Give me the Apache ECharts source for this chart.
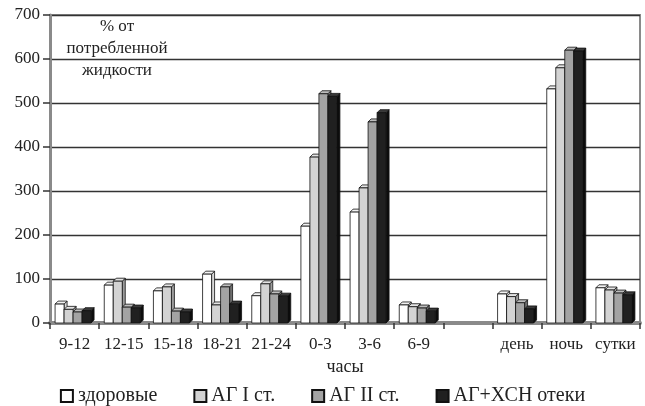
<!DOCTYPE html>
<html>
<head>
<meta charset="utf-8">
<script src="https://cdn.jsdelivr.net/npm/echarts@6/dist/echarts.min.js"></script>
<style>
  html, body { margin: 0; padding: 0; background: #fff; }
  #chart { width: 645px; height: 406px; }
</style>
</head>
<body>
<div id="chart"></div>
<script>
// Time intervals (hours), a blank spacer, then day / night / 24h totals
const categories = ['9-12', '12-15', '15-18', '18-21', '21-24', '0-3', '3-6', '6-9', '', 'день', 'ночь', 'сутки'];
const seriesNames = ['здоровые', 'АГ I ст.', 'АГ II ст.', 'АГ+ХСН отеки'];

// % of consumed fluid; null = no bar
const healthy   = [43, 86, 73, 111, 62, 220, 252, 41, null, 66, 532, 80];
const ag1       = [31, 95, 82, 41, 89, 377, 307, 37, null, 60, 580, 75];
const ag2       = [25, 36, 27, 82, 66, 521, 457, 34, null, 46, 620, 68];
const agChf     = [28, 34, 25, 43, 61, 515, 478, 27, null, 32, 618, 64];

const yTicks = { min: 0, max: 700, interval: 100 };

const seriesValues = [healthy, ag1, ag2, agChf];
const faceColors = ['#ffffff', '#d3d3d3', '#a3a3a3', '#202020'];
const sideColors = ['#d8d8d8', '#9c9c9c', '#6e6e6e', '#0c0c0c'];
const topColors  = ['#f2f2f2', '#e4e4e4', '#bdbdbd', '#3a3a3a'];

const serif = '"Liberation Serif", "DejaVu Serif", serif';

// Each bar: front face, bevelled top and a right-hand side face
function makeRenderer(sIdx) {
  return function (params, api) {
    const cat = api.value(0);
    const val = api.value(1);
    const base = api.coord([cat, 0]);
    const top = api.coord([cat, val]);
    const bw = 9, d = 3;
    const x0 = base[0] - 2 * bw - d / 2 + sIdx * bw;
    const ty = top[1], by = base[1];
    const stroke = { stroke: '#111', lineWidth: 0.8 };
    return {
      type: 'group',
      children: [
        {
          type: 'polygon',
          shape: { points: [[x0 + bw, ty], [x0 + bw + d, ty - d], [x0 + bw + d, by - d], [x0 + bw, by]] },
          style: Object.assign({ fill: sideColors[sIdx] }, stroke)
        },
        {
          type: 'polygon',
          shape: { points: [[x0, ty], [x0 + d, ty - d], [x0 + bw + d, ty - d], [x0 + bw, ty]] },
          style: Object.assign({ fill: topColors[sIdx] }, stroke)
        },
        {
          type: 'rect',
          shape: { x: x0, y: ty, width: bw, height: by - ty },
          style: Object.assign({ fill: faceColors[sIdx] }, stroke)
        }
      ]
    };
  };
}

const series = seriesValues.map((vals, i) => ({
  name: seriesNames[i],
  type: 'custom',
  renderItem: makeRenderer(i),
  itemStyle: { color: faceColors[i], borderColor: '#111', borderWidth: 1 },
  encode: { x: 0, y: 1 },
  data: vals.map((v, k) => (v == null ? null : [k, v])).filter(Boolean),
  z: 3
}));

const chart = echarts.init(document.getElementById('chart'), null, { renderer: 'canvas' });
chart.setOption({
  animation: false,
  backgroundColor: '#ffffff',
  title: {
    text: '% от\nпотребленной\nжидкости',
    left: 112, top: 11, textAlign: 'center',
    textStyle: { fontFamily: serif, fontSize: 17, fontWeight: 'normal', color: '#222', lineHeight: 22 }
  },
  grid: { left: 50, right: 5, top: 15, bottom: 83, show: true, borderColor: '#8a8a8a', borderWidth: 2 },
  legend: {
    top: 381,
    left: 'center',
    icon: 'rect',
    itemWidth: 12,
    itemHeight: 12,
    itemGap: 36,
    textStyle: { fontFamily: serif, fontSize: 20, color: '#222' },
    data: seriesNames
  },
  xAxis: {
    type: 'category',
    data: categories,
    name: 'часы',
    nameLocation: 'middle',
    nameGap: 34,
    nameTextStyle: { fontFamily: serif, fontSize: 18, color: '#222' },
    axisLine: { show: true, lineStyle: { color: '#8a8a8a', width: 4 } },
    axisTick: { show: true, length: 6, lineStyle: { color: '#333', width: 1.5 } },
    axisLabel: { fontFamily: serif, fontSize: 17, color: '#222', margin: 13, interval: 0 }
  },
  yAxis: {
    type: 'value',
    min: yTicks.min, max: yTicks.max, interval: yTicks.interval,
    axisLine: { show: true, lineStyle: { color: '#8a8a8a', width: 3 } },
    axisTick: { show: true, length: 7, lineStyle: { color: '#333', width: 1.5 } },
    axisLabel: { fontFamily: serif, fontSize: 17, color: '#222', margin: 10 },
    splitLine: { show: true, lineStyle: { color: '#333', width: 1.3 } }
  },
  series: series
});
</script>
</body>
</html>
